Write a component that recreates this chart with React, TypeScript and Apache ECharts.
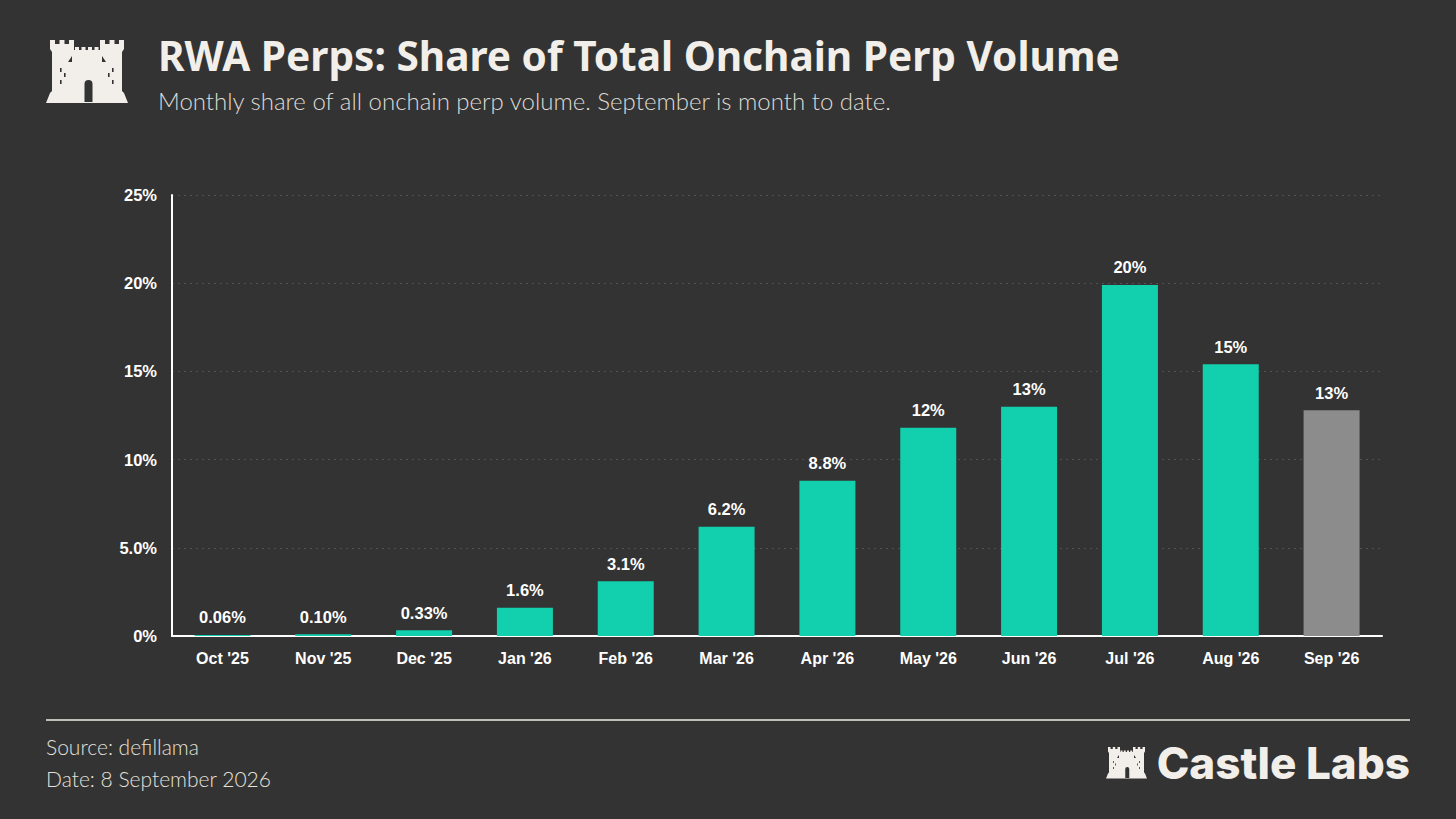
import React, { useEffect, useRef } from "react";
import * as echarts from "echarts";

const months = ["Oct '25", "Nov '25", "Dec '25", "Jan '26", "Feb '26", "Mar '26", "Apr '26", "May '26", "Jun '26", "Jul '26", "Aug '26", "Sep '26"];
const shares = [0.06, 0.10, 0.33, 1.6, 3.1, 6.2, 8.8, 11.8, 13.0, 19.9, 15.4, 12.8];
const partialMonths = ["Sep '26"];
const yMax = 25;
const yInterval = 5;

const titleText = "RWA Perps: Share of Total Onchain Perp Volume";
const subtitleText = "Monthly share of all onchain perp volume. September is month to date.";
const sourceText = "Source: defillama";
const dateText = "Date: 8 September 2026";
const brandText = "Castle Labs";

const BG = "#333333";
const INK = "#f2eee9";
const TEAL = "#12cfae";
const GREY = "#8c8c8c";

const castleD =
  "M0 63 L4 53 L6 51 L6 12 L4 9 L4 0 L9 0 L9 4 L13.5 4 L13.5 0 L18.5 0 L18.5 4 L23 4 L23 0 L28 0 L28 10 " +
  "L29 10 L29 7 L33 7 L33 10 L35.5 10 L35.5 7 L39.5 7 L39.5 10 L42 10 L42 7 L46 7 L46 10 L48.5 10 L48.5 7 L52.5 7 L52.5 10 L54 10 " +
  "L54 0 L59 0 L59 4 L63.5 4 L63.5 0 L68.5 0 L68.5 4 L73 4 L73 0 L78 0 L78 9 L76 12 L76 51 L78 53 L82 63 Z";

let registered = false;
function ensureShape() {
  if (registered) return;
  echarts.graphic.registerShape("castle", echarts.graphic.extendPath(castleD, {}) as any);
  registered = true;
}

function castleGroup(x: number, y: number, s: number): any {
  const dark = { fill: BG };
  return {
    type: "group",
    x,
    y,
    scaleX: s,
    scaleY: s,
    children: [
      { type: "castle", x: 0, y: 0, style: { fill: INK } },
      { type: "polygon", shape: { points: [[22, 22], [26, 16], [26, 22]] }, style: dark },
      { type: "polygon", shape: { points: [[60, 22], [56, 16], [56, 22]] }, style: dark },
      { type: "rect", shape: { x: 38.5, y: 40, width: 8, height: 22, r: [4, 4, 0, 0] }, style: dark },
      { type: "rect", shape: { x: 14, y: 28, width: 1.6, height: 4 }, style: dark },
      { type: "rect", shape: { x: 18, y: 33, width: 1.6, height: 4 }, style: dark },
      { type: "rect", shape: { x: 14, y: 40, width: 1.6, height: 4 }, style: dark },
      { type: "rect", shape: { x: 66, y: 28, width: 1.6, height: 4 }, style: dark },
      { type: "rect", shape: { x: 62, y: 33, width: 1.6, height: 4 }, style: dark },
      { type: "rect", shape: { x: 66, y: 40, width: 1.6, height: 4 }, style: dark },
    ],
  };
}

function fmtShare(v: number): string {
  if (v === 0) return "0%";
  if (v < 1) return v.toFixed(2) + "%";
  if (v < 10) return v.toFixed(1) + "%";
  return v.toFixed(0) + "%";
}

export default function App() {
  const ref = useRef<HTMLDivElement>(null);
  useEffect(() => {
    document.body.style.margin = "0";
    document.body.style.background = BG;
    ensureShape();
    const chart = echarts.init(ref.current!, null, { renderer: "svg" });
    const labelFont = "'Liberation Sans', Arial, sans-serif";
    chart.setOption({
      animation: false,
      backgroundColor: BG,
      grid: { left: 172, right: 74, top: 195, bottom: 183, containLabel: false },
      xAxis: {
        type: "category",
        data: months,
        axisLine: { show: true, lineStyle: { color: "#ffffff", width: 2 } },
        axisTick: { show: false },
        axisLabel: {
          color: "#ffffff",
          fontFamily: labelFont,
          fontWeight: "bold",
          fontSize: 16,
          margin: 14,
        },
      },
      yAxis: {
        type: "value",
        min: 0,
        max: yMax,
        interval: yInterval,
        axisLine: { show: true, lineStyle: { color: "#ffffff", width: 2 } },
        axisTick: { show: false },
        splitLine: { show: true, lineStyle: { color: "#535353", type: [2, 4], width: 1 } },
        axisLabel: {
          color: "#ffffff",
          fontFamily: labelFont,
          fontWeight: "bold",
          fontSize: 16.5,
          margin: 15,
          formatter: (v: number) => fmtShare(v),
        },
      },
      series: [
        {
          type: "bar",
          barWidth: 56,
          data: shares.map((v, i) => ({
            value: v,
            itemStyle: { color: partialMonths.includes(months[i]) ? GREY : TEAL },
          })),
          label: {
            show: true,
            position: "top",
            distance: 9,
            color: "#ffffff",
            fontFamily: labelFont,
            fontWeight: "bold",
            fontSize: 16.5,
            formatter: (p: any) => fmtShare(p.value),
          },
        },
      ],
      graphic: [
        castleGroup(46, 40, 1),
        {
          type: "text",
          x: 158,
          y: 55,
          style: {
            text: titleText,
            fill: INK,
            font: "bold 40.6px 'Noto Sans', sans-serif",
            textVerticalAlign: "middle",
          },
        },
        {
          type: "text",
          x: 158,
          y: 100,
          style: {
            text: subtitleText,
            fill: "#dedad4",
            font: "300 24px Lato, sans-serif",
            textVerticalAlign: "middle",
          },
        },
        {
          type: "line",
          shape: { x1: 46, y1: 720, x2: 1410, y2: 720 },
          style: { stroke: INK, lineWidth: 1.5 },
        },
        {
          type: "text",
          x: 46,
          y: 746,
          style: { text: sourceText, fill: "#e4e0da", font: "300 21px Lato, sans-serif", textVerticalAlign: "middle" },
        },
        {
          type: "text",
          x: 46,
          y: 778,
          style: { text: dateText, fill: "#e4e0da", font: "300 21px Lato, sans-serif", textVerticalAlign: "middle" },
        },
        castleGroup(1106, 747, 0.5),
        {
          type: "text",
          x: 1410,
          y: 763,
          style: {
            text: brandText,
            fill: INK,
            font: "800 44px Inter, sans-serif",
            textAlign: "right",
            textVerticalAlign: "middle",
          },
        },
      ],
    });
    return () => chart.dispose();
  }, []);
  return <div ref={ref} style={{ width: 1456, height: 819 }} />;
}
